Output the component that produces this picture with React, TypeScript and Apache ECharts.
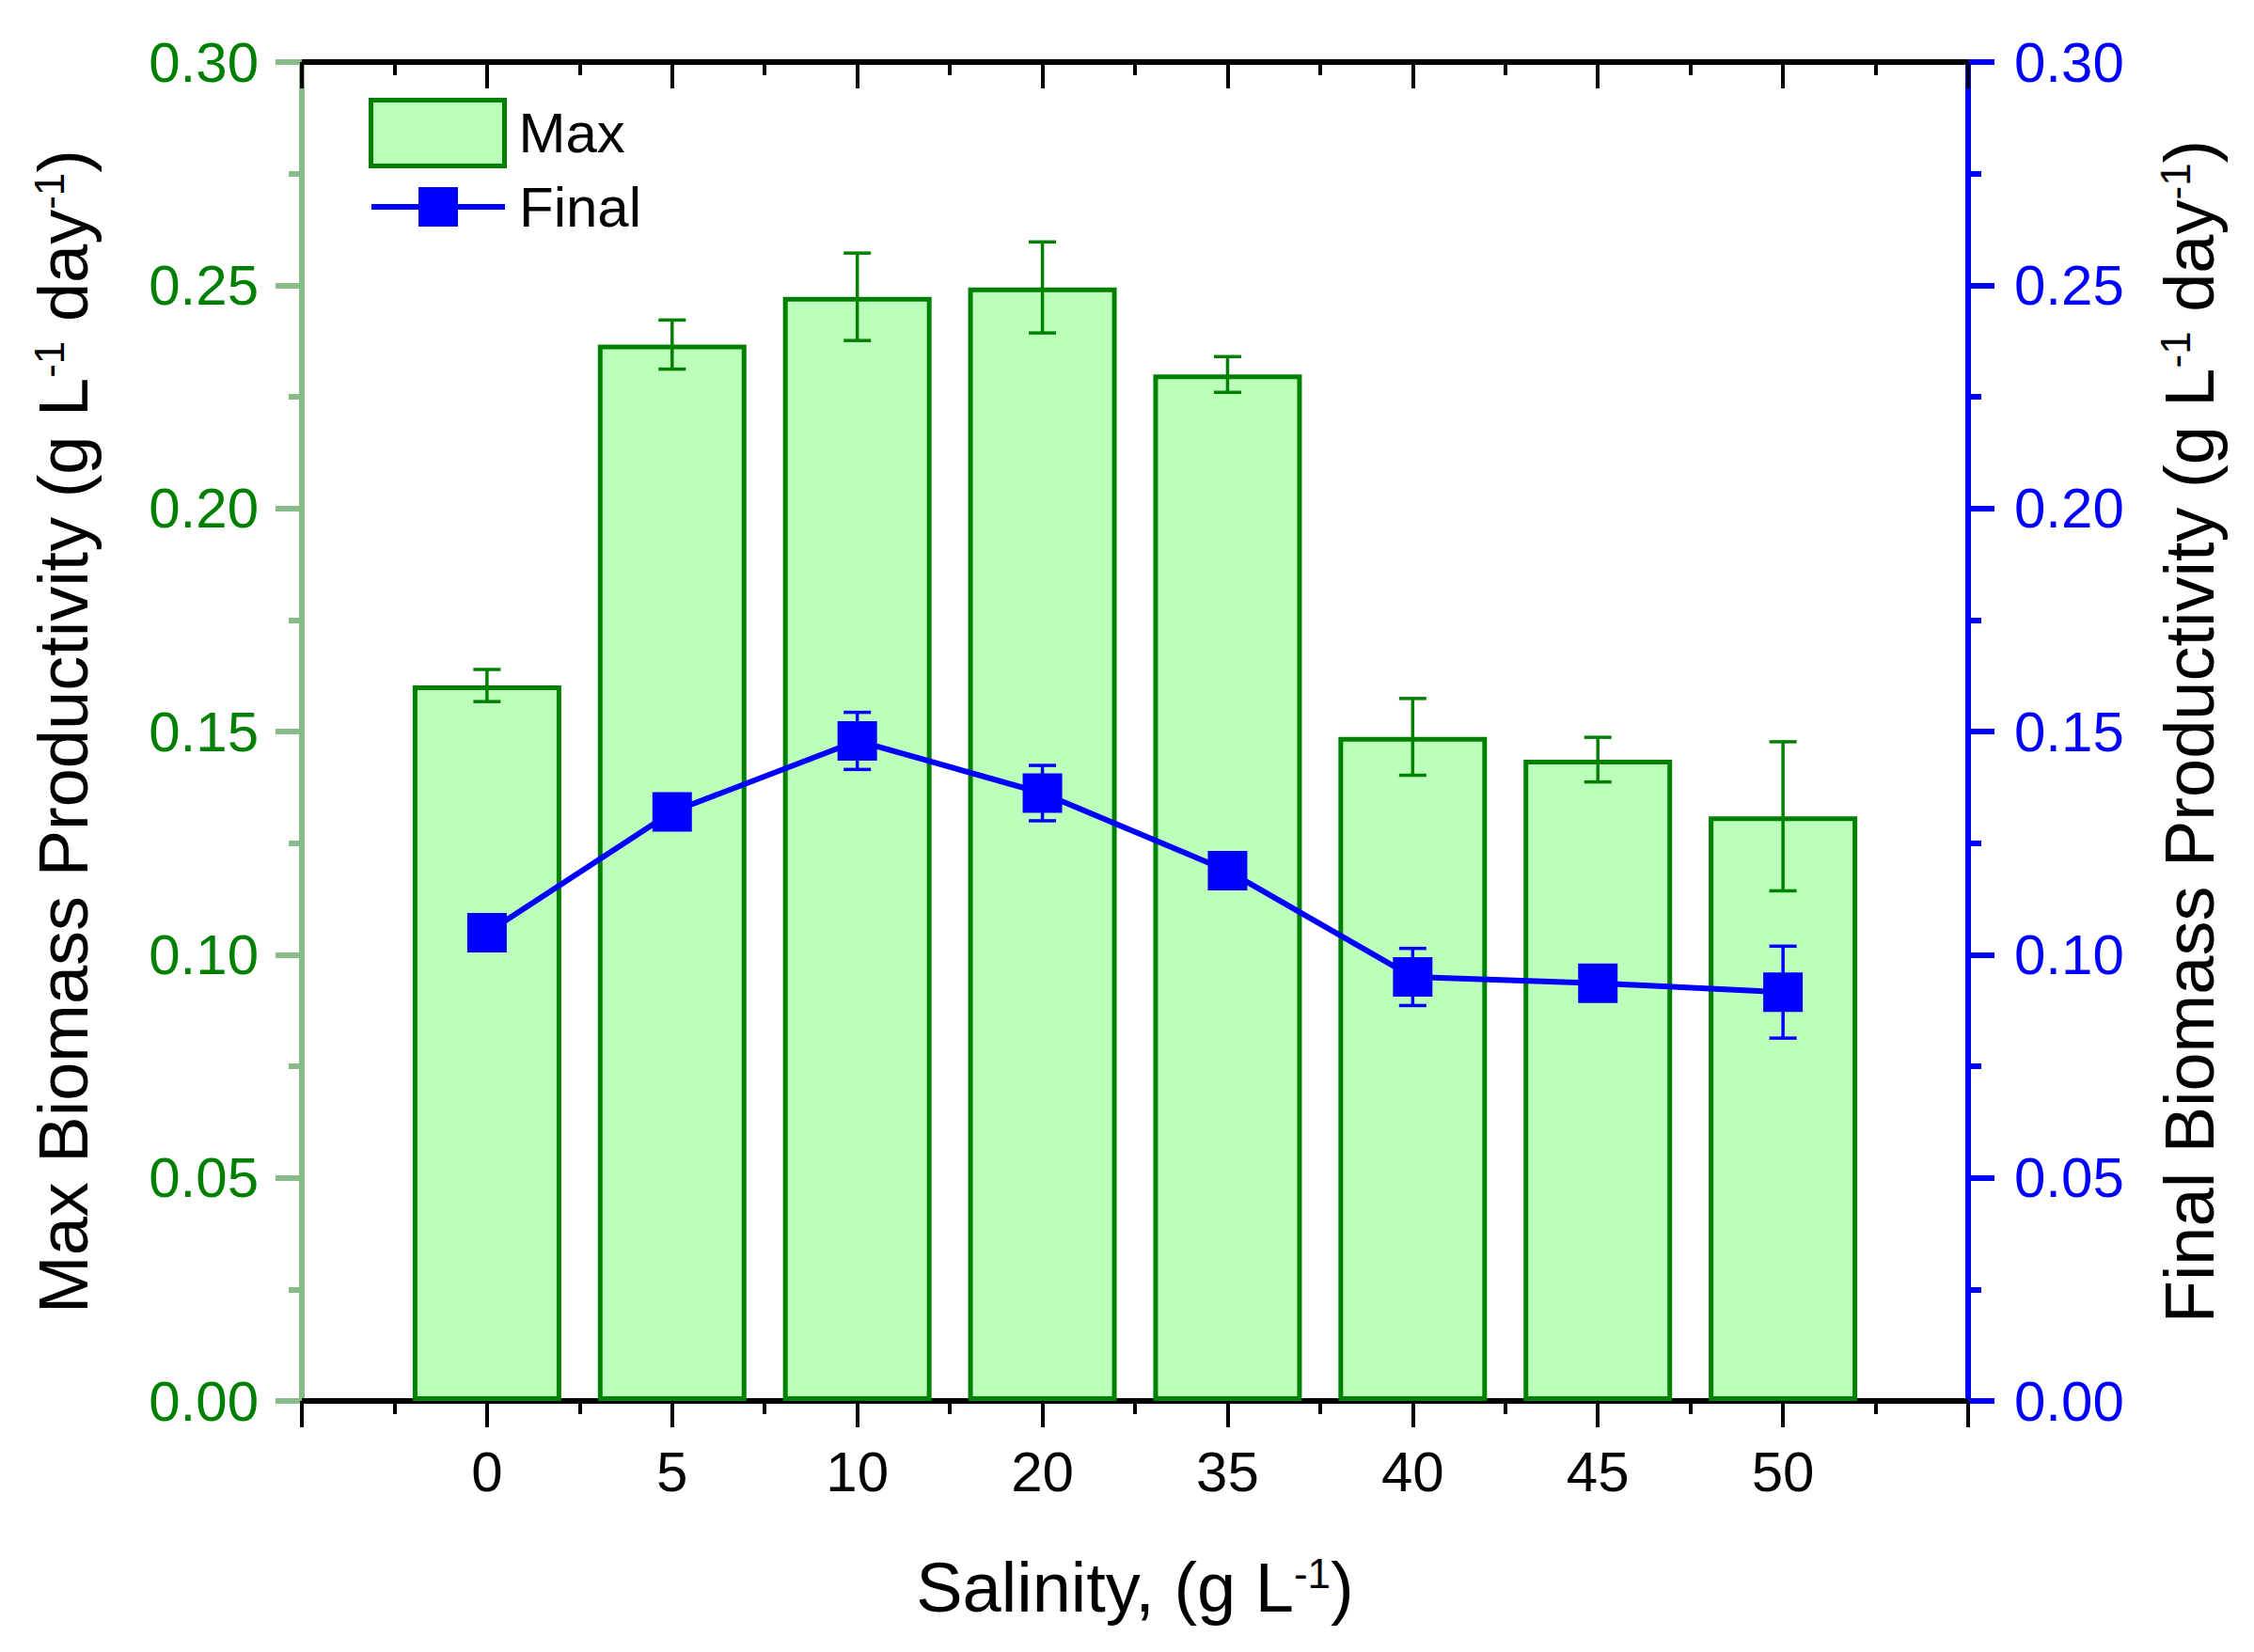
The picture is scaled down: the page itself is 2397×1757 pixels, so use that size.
import React, { useEffect, useRef } from "react";
import * as echarts from "echarts";

// ---- data ----
const salinity = ["0", "5", "10", "20", "35", "40", "45", "50"];
const maxProductivity = [0.1603, 0.2367, 0.2474, 0.2495, 0.23, 0.1488, 0.1437, 0.131];
const maxError = [0.0036, 0.0055, 0.0098, 0.0102, 0.004, 0.0086, 0.005, 0.0167];
const finalProductivity = [0.1049, 0.132, 0.1479, 0.1362, 0.1188, 0.095, 0.0936, 0.0916];
const finalError = [0.002, 0.002, 0.0064, 0.0062, 0.002, 0.0064, 0.002, 0.0103];
const xRange = [-1, 8];
const yRange = [0, 0.3];
const yStep = 0.05;

const FONT = "'Liberation Sans', Arial, Helvetica, sans-serif";
const GREEN = "#008000";
const AXIS_GREEN = "#88BB88";
const BLUE = "#0000FF";
const BAR_FILL = "#BBFFBB";

const titleRich = {
  a: { fontSize: 74, fontFamily: FONT, color: "#000", lineHeight: 74 },
  s: { fontSize: 44, fontFamily: FONT, color: "#000", lineHeight: 16, verticalAlign: "top" },
};

function errorBarSeries(name: string, values: number[], errors: number[], color: string, yAxisIndex: number, z: number) {
  return {
    name,
    type: "custom",
    xAxisIndex: 0,
    yAxisIndex,
    z,
    silent: true,
    data: values.map((v, i) => [i, v - errors[i], v + errors[i]]),
    encode: { x: 0, y: [1, 2] },
    renderItem: (params: any, api: any) => {
      const x = api.value(0);
      const pLo = api.coord([x, api.value(1)]);
      const pHi = api.coord([x, api.value(2)]);
      const cap = 14.5;
      const style = { stroke: color, lineWidth: 3.5, fill: "none" };
      return {
        type: "group",
        children: [
          { type: "line", shape: { x1: pHi[0], y1: pHi[1], x2: pLo[0], y2: pLo[1] }, style },
          { type: "line", shape: { x1: pHi[0] - cap, y1: pHi[1], x2: pHi[0] + cap, y2: pHi[1] }, style },
          { type: "line", shape: { x1: pLo[0] - cap, y1: pLo[1], x2: pLo[0] + cap, y2: pLo[1] }, style },
        ],
      };
    },
  };
}

export default function App() {
  const ref = useRef<HTMLDivElement>(null);
  useEffect(() => {
    document.body.style.margin = "0";
    if (!ref.current) return;
    const chart = echarts.init(ref.current, undefined, { renderer: "svg" });
    const xAxisBase = {
      type: "value",
      min: xRange[0],
      max: xRange[1],
      interval: 1,
      splitLine: { show: false },
      minorSplitLine: { show: false },
    };
    const yAxisBase = {
      type: "value",
      min: yRange[0],
      max: yRange[1],
      interval: yStep,
      splitLine: { show: false },
      minorSplitLine: { show: false },
    };
    chart.setOption({
      animation: false,
      backgroundColor: "#fff",
      grid: { left: 321, right: 304, top: 66, bottom: 267, containLabel: false, outerBoundsMode: "none" },
      legend: [
        {
          data: [{ name: "Max", icon: "rect" }],
          left: 392,
          top: 104,
          itemWidth: 142,
          itemHeight: 70,
          padding: 0,
          selectedMode: false,
          itemStyle: { color: BAR_FILL, borderColor: GREEN, borderWidth: 5 },
          textStyle: { fontSize: 60, fontFamily: FONT, color: "#000", padding: [0, 0, 0, 10] },
        },
        {
          data: ["Final"],
          left: 392,
          top: 190,
          itemWidth: 142,
          itemHeight: 52.5,
          padding: 0,
          selectedMode: false,
          lineStyle: { width: 6, color: BLUE },
          textStyle: { fontSize: 60, fontFamily: FONT, color: "#000", padding: [0, 0, 0, 10] },
        },
      ],
      xAxis: [
        {
          ...xAxisBase,
          position: "bottom",
          name: "{a|Salinity, (g L}{s|-1}{a|)}",
          nameLocation: "middle",
          nameGap: 161,
          nameTextStyle: { rich: titleRich },
          axisLine: { show: true, onZero: false, lineStyle: { color: "#000", width: 6 } },
          axisTick: { show: true, inside: false, length: 28, lineStyle: { color: "#000", width: 4 } },
          minorTick: { show: true, splitNumber: 2, length: 14, lineStyle: { color: "#000", width: 4 } },
          axisLabel: {
            show: true,
            margin: 45,
            fontSize: 60,
            fontFamily: FONT,
            color: "#000",
            showMinLabel: true,
            showMaxLabel: true,
            formatter: (v: number) => (Number.isInteger(v) && v >= 0 && v < salinity.length ? salinity[v] : ""),
          },
        },
        {
          ...xAxisBase,
          position: "top",
          axisLine: { show: true, onZero: false, lineStyle: { color: "#000", width: 6 } },
          axisTick: { show: true, inside: true, length: 28, lineStyle: { color: "#000", width: 4 } },
          minorTick: { show: true, splitNumber: 2, length: 14, lineStyle: { color: "#000", width: 4 } },
          axisLabel: { show: false },
        },
      ],
      yAxis: [
        {
          ...yAxisBase,
          position: "left",
          name: "{a|Max Biomass Productivity (g L}{s|-1}{a| day}{s|-1}{a|)}",
          nameLocation: "middle",
          nameGap: 217,
          nameTextStyle: { rich: titleRich },
          axisLine: { show: true, onZero: false, lineStyle: { color: AXIS_GREEN, width: 6 } },
          axisTick: { show: true, inside: false, length: 28, lineStyle: { color: AXIS_GREEN, width: 6 } },
          minorTick: { show: true, splitNumber: 2, length: 14, lineStyle: { color: AXIS_GREEN, width: 6 } },
          axisLabel: {
            margin: 46,
            fontSize: 60,
            fontFamily: FONT,
            color: GREEN,
            formatter: (v: number) => v.toFixed(2),
          },
        },
        {
          ...yAxisBase,
          position: "right",
          name: "{a|Final Biomass Productivity (g L}{s|-1}{a| day}{s|-1}{a|)}",
          nameLocation: "middle",
          nameGap: 198,
          nameTextStyle: { rich: titleRich },
          axisLine: { show: true, onZero: false, lineStyle: { color: BLUE, width: 6 } },
          axisTick: { show: true, inside: false, length: 28, lineStyle: { color: BLUE, width: 6 } },
          minorTick: { show: true, splitNumber: 2, length: 14, lineStyle: { color: BLUE, width: 6 } },
          axisLabel: {
            margin: 49,
            fontSize: 60,
            fontFamily: FONT,
            color: BLUE,
            formatter: (v: number) => v.toFixed(2),
          },
        },
      ],
      series: [
        {
          name: "Max",
          type: "bar",
          xAxisIndex: 0,
          yAxisIndex: 0,
          z: 1,
          barWidth: 158,
          data: maxProductivity.map((v, i) => [i, v]),
          itemStyle: { color: BAR_FILL, borderColor: GREEN, borderWidth: 5 },
        },
        errorBarSeries("MaxErr", maxProductivity, maxError, GREEN, 0, 2),
        errorBarSeries("FinalErr", finalProductivity, finalError, BLUE, 1, 3),
        {
          name: "Final",
          type: "line",
          xAxisIndex: 0,
          yAxisIndex: 1,
          z: 4,
          data: finalProductivity.map((v, i) => [i, v]),
          symbol: "rect",
          symbolSize: 42,
          itemStyle: { color: BLUE },
          lineStyle: { color: BLUE, width: 6 },
        },
      ],
    });
    return () => chart.dispose();
  }, []);
  return <div ref={ref} style={{ width: 2397, height: 1757 }} />;
}
